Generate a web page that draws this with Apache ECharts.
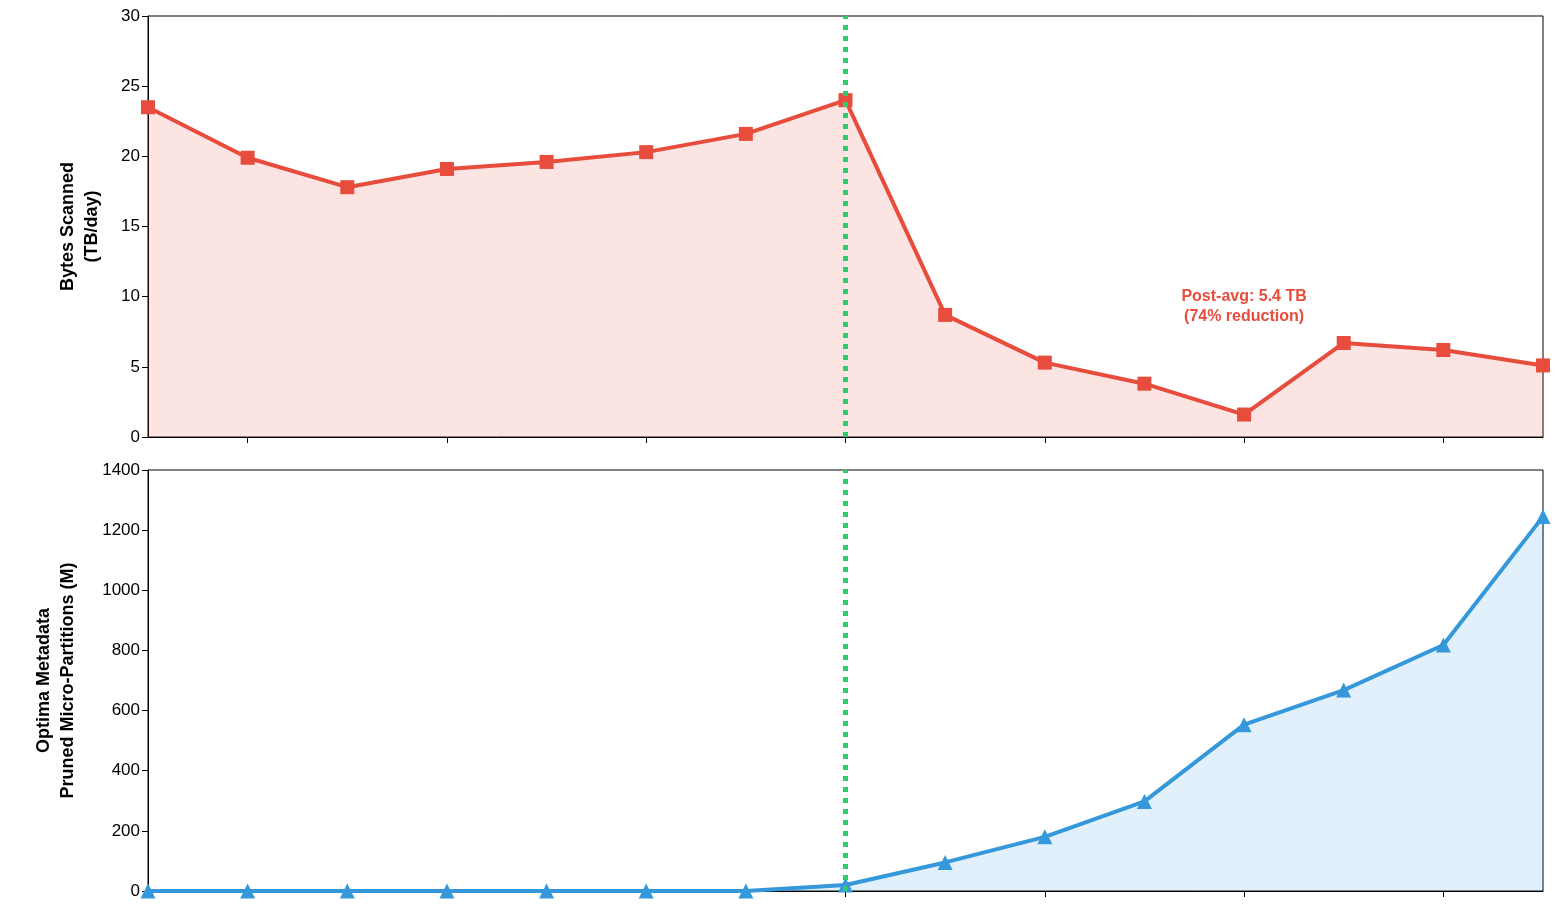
<!DOCTYPE html>
<html>
<head>
<meta charset="utf-8">
<script src="https://cdn.jsdelivr.net/npm/echarts@6/dist/echarts.min.js"></script>
<style>
  html, body { margin: 0; padding: 0; background: #fff; }
  #chart { width: 1566px; height: 909px; }
</style>
</head>
<body>
<div id="chart"></div>
<script>
const days = ['0', '1', '2', '3', '4', '5', '6', '7', '8', '9', '10', '11', '12', '13', '14']
const bytesScanned = [23.5, 19.9, 17.8, 19.1, 19.6, 20.3, 21.6, 24.0, 8.7, 5.3, 3.8, 1.6, 6.7, 6.2, 5.1]
const prunedPartitions = [0, 0, 0, 0, 0, 0, 0, 20, 95, 180, 298, 553, 668, 818, 1245]
const enableDay = '7'
const noteText = 'Post-avg: 5.4 TB\n(74% reduction)'

const myChart = echarts.init(document.getElementById('chart'))
const font = 'Liberation Sans, Arial, sans-serif'
const red = '#e74c3c'
const blue = '#3498db'
const green = '#2ecc71'

const xAxisBase = (gridIndex) => ({
  type: 'category',
  gridIndex,
  data: days,
  boundaryGap: false,
  axisLine: { lineStyle: { color: '#000' } },
  axisTick: { interval: (i) => i % 2 === 1, length: 6, lineStyle: { color: '#000' } },
  axisLabel: { show: false },
  splitLine: { show: false },
})

const yAxisBase = (gridIndex, max, interval, name, nameGap) => ({
  type: 'value',
  gridIndex,
  min: 0,
  max,
  interval,
  name,
  nameLocation: 'middle',
  nameGap,
  nameTextStyle: { fontFamily: font, fontSize: 18, fontWeight: 'bold', color: '#000', lineHeight: 24 },
  axisLine: { show: true, lineStyle: { color: '#000' } },
  axisTick: { show: true, length: 6, lineStyle: { color: '#000' } },
  axisLabel: { fontFamily: font, fontSize: 17, color: '#000', formatter: (v) => `${v}` },
  splitLine: { show: false },
})

const vLine = {
  silent: true,
  symbol: 'none',
  label: { show: false },
  lineStyle: { color: green, type: [5, 6], width: 5 },
  data: [{ xAxis: enableDay }],
}

const option = {
  animation: false,
  grid: [
    { left: 148, right: 23, top: 16, height: 421, show: true, borderColor: '#000', borderWidth: 1 },
    { left: 148, right: 23, top: 470, height: 421, show: true, borderColor: '#000', borderWidth: 1 },
  ],
  xAxis: [xAxisBase(0), xAxisBase(1)],
  yAxis: [
    yAxisBase(0, 30, 5, 'Bytes Scanned\n(TB/day)', 44),
    yAxisBase(1, 1400, 200, 'Optima Metadata\nPruned Micro-Partitions (M)', 68),
  ],
  series: [
    {
      type: 'line',
      xAxisIndex: 0,
      yAxisIndex: 0,
      data: bytesScanned,
      symbol: 'rect',
      symbolSize: 14,
      lineStyle: { color: red, width: 4 },
      itemStyle: { color: red },
      areaStyle: { color: red, opacity: 0.15 },
      markLine: vLine,
      markPoint: {
        symbol: 'circle',
        symbolSize: 0,
        label: {
          show: true,
          formatter: noteText,
          fontFamily: font,
          fontSize: 16,
          fontWeight: 'bold',
          color: red,
          lineHeight: 20,
          align: 'center',
        },
        data: [{ coord: ['11', 9.3] }],
      },
    },
    {
      type: 'line',
      xAxisIndex: 1,
      yAxisIndex: 1,
      data: prunedPartitions,
      symbol: 'triangle',
      symbolSize: 15,
      lineStyle: { color: blue, width: 4 },
      itemStyle: { color: blue },
      areaStyle: { color: blue, opacity: 0.15 },
      markLine: vLine,
    },
  ],
}
myChart.setOption(option)
</script>
</body>
</html>
